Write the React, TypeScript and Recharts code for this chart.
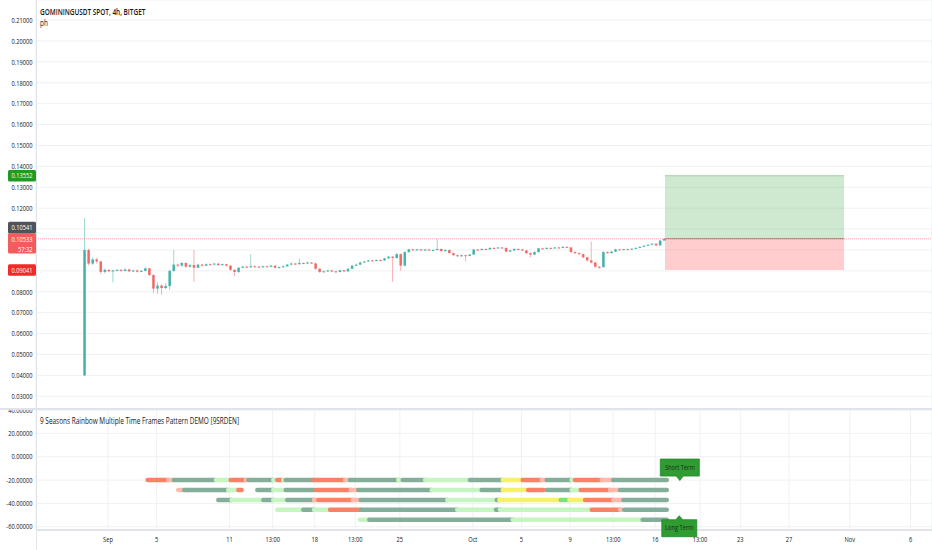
import React from 'react';
import { ComposedChart, Bar, Line, XAxis, YAxis, CartesianGrid, ReferenceLine, ReferenceArea, ReferenceDot } from 'recharts';

const FONT = '"Open Sans", "Noto Sans", sans-serif';
const SX = 0.75; // the screenshot is squeezed sideways, so is every glyph
const GRID = '#eff1f4';
const BORDER = '#e0e3eb';
const INK = '#131722';

// time axis in days, day 0 = Sep 1
const X_MIN = -5.92;
const X_MAX = 67.76;
const TICK_DAYS = [0, 4, 10, 13.54, 17, 20.34, 24, 30, 34, 38, 41.54, 45, 48.68, 52, 56, 61, 66];
const TICK_LABELS = ['Sep', '5', '11', '13:00', '18', '13:00', '25', 'Oct', '5', '9', '13:00', '16', '13:00', '23', '27', 'Nov', '6'];

const P_MIN = 0.02392;
const P_MAX = 0.2196;
const PRICE_TICKS = [0.03, 0.04, 0.05, 0.06, 0.07, 0.08, 0.09, 0.1, 0.11, 0.12, 0.13, 0.14, 0.15, 0.16, 0.17, 0.18, 0.19, 0.2, 0.21];
// labels that sit under the price badges
const COVERED_TICKS = [0.09, 0.1, 0.11];

const IND_MIN = -62.8;
const IND_MAX = 40.9;
const IND_TICKS = [40, 20, 0, -20, -40, -60];

// 8h candles, prices in 1e-4 units
const FIRST_DAY = -1.95;
const CANDLE_STEP = 1 / 3;
const FIRST_OPEN = 400;
const CLOSE = [
  1000, 935, 955, 945, 895, 905, 898, 902, 905, 900,
  907, 898, 902, 896, 900, 912, 880, 815, 830, 818,
  828, 900, 930, 925, 938, 920, 928, 915, 930, 925,
  932, 930, 935, 928, 932, 925, 905, 895, 915, 920,
  918, 922, 920, 918, 922, 920, 925, 915, 918, 922,
  930, 935, 932, 938, 935, 940, 936, 910, 895, 898,
  902, 898, 895, 903, 898, 910, 925, 930, 940, 945,
  950, 948, 952, 950, 960, 968, 962, 980, 925, 990,
  1003, 1000, 1003, 998, 1002, 998, 1000, 1005, 995, 1000,
  985, 975, 970, 975, 972, 978, 1002, 1000, 1005, 1003,
  1010, 1008, 1012, 1010, 992, 998, 1005, 1003, 998, 985,
  978, 990, 1008, 1005, 1010, 1008, 1012, 1010, 1015, 1012,
  990, 985, 980, 965, 950, 940, 920, 918, 990, 985,
  992, 1003, 1002, 1004, 1003, 1006, 1010, 1015, 1020, 1025,
  1030, 1022, 1045, 1053,
];
const HIGH = [
  1152, 1005, 965, 963, 950, 912, 908, 906, 910, 908,
  912, 910, 906, 905, 904, 918, 914, 884, 845, 835,
  842, 905, 1000, 935, 942, 940, 932, 1000, 935, 933,
  936, 935, 938, 936, 935, 934, 928, 908, 918, 925,
  924, 980, 925, 923, 926, 925, 930, 927, 921, 926,
  934, 940, 938, 960, 940, 944, 942, 938, 912, 902,
  906, 904, 900, 906, 905, 914, 928, 934, 944, 948,
  954, 953, 955, 954, 963, 972, 970, 985, 983, 994,
  1006, 1005, 1006, 1004, 1005, 1004, 1003, 1053, 1007, 1003,
  1002, 988, 978, 978, 977, 981, 1005, 1004, 1008, 1007,
  1013, 1012, 1015, 1014, 1012, 1001, 1008, 1007, 1004, 1000,
  988, 994, 1011, 1010, 1013, 1012, 1015, 1014, 1018, 1017,
  1014, 993, 988, 983, 968, 1040, 943, 922, 995, 993,
  995, 1006, 1005, 1006, 1006, 1008, 1012, 1017, 1022, 1027,
  1033, 1031, 1047, 1055,
];
const LOW = [
  397, 925, 928, 935, 885, 888, 893, 845, 898, 896,
  898, 894, 895, 892, 894, 897, 876, 795, 790, 785,
  812, 808, 896, 918, 920, 915, 916, 848, 912, 920,
  922, 926, 927, 925, 925, 921, 900, 875, 890, 912,
  914, 915, 916, 914, 915, 917, 917, 912, 912, 915,
  919, 927, 928, 929, 932, 932, 933, 906, 890, 892,
  895, 894, 891, 893, 894, 895, 908, 922, 927, 936,
  942, 945, 946, 947, 948, 957, 847, 958, 900, 922,
  987, 997, 997, 995, 996, 995, 996, 997, 992, 993,
  982, 972, 966, 967, 945, 970, 976, 997, 998, 1000,
  1001, 1005, 1006, 1007, 988, 990, 995, 1000, 995, 980,
  965, 975, 988, 1002, 1003, 1005, 1006, 1008, 1008, 1010,
  986, 980, 975, 960, 945, 935, 915, 910, 915, 982,
  983, 990, 999, 1000, 1001, 1002, 1005, 1009, 1014, 1019,
  1024, 1018, 1020, 1044,
];

// long position tool
const BOX_FROM = 45.8;
const BOX_TO = 60.53;
const TARGET = 0.13552;
const ENTRY = 0.10541;
const STOP = 0.09041;
const LAST = 0.10533;
const COUNTDOWN = '57:32';

// rainbow rows: [from day, to day, colour]
const ROW_LEVELS = [-20, -28.5, -37, -45.5, -54];
const ROW_1 = [[3.26, 4.96, 'rd'], [4.96, 5.43, 'pk'], [5.43, 8.88, 'dk'], [8.88, 10.09, 'lg'], [10.09, 11.35, 'rd'], [11.35, 11.54, 'pk'], [11.54, 13.59, 'dk'], [13.59, 13.92, 'lg'], [13.92, 14.42, 'rd'], [14.42, 14.61, 'lg'], [14.61, 16.88, 'dk'], [16.88, 19.49, 'rd'], [19.49, 19.9, 'pk'], [19.9, 23.87, 'dk'], [23.87, 24.23, 'lg'], [24.23, 26.07, 'dk'], [26.07, 29.77, 'lg'], [29.77, 32.46, 'dk'], [32.46, 34.1, 'yl'], [34.1, 35.67, 'rd'], [35.67, 36.08, 'pk'], [36.08, 38.13, 'dk'], [38.13, 38.4, 'lg'], [38.4, 40.6, 'rd'], [40.6, 41.55, 'pk'], [41.55, 45.95, 'dk']];
const ROW_2 = [[5.78, 6.27, 'pk'], [6.27, 9.89, 'dk'], [9.89, 10.72, 'lg'], [10.72, 10.99, 'rd'], [12.28, 13.59, 'dk'], [13.59, 14.61, 'lg'], [14.61, 16.94, 'dk'], [17.11, 19.96, 'rd'], [19.96, 20.58, 'pk'], [20.58, 26.62, 'dk'], [26.62, 30.73, 'lg'], [30.73, 32.46, 'dk'], [32.46, 34.56, 'yl'], [34.56, 35.8, 'rd'], [36.08, 38.13, 'dk'], [38.13, 38.87, 'lg'], [38.87, 41.28, 'rd'], [41.28, 42.11, 'pk'], [42.11, 45.95, 'dk']];
const ROW_3 = [[9.07, 10.17, 'dk'], [10.17, 12.77, 'lg'], [12.77, 13.59, 'dk'], [13.59, 14.74, 'lg'], [14.74, 16.94, 'dk'], [16.94, 17.29, 'pk'], [17.29, 20.12, 'rd'], [20.12, 20.78, 'pk'], [20.78, 27.9, 'dk'], [27.9, 31.97, 'lg'], [31.97, 32.18, 'dk'], [32.18, 37.23, 'yl'], [37.23, 37.94, 'gr'], [37.94, 39.23, 'yl'], [39.23, 41.55, 'rd'], [41.55, 42.38, 'pk'], [42.38, 45.95, 'dk']];
const ROW_4 = [[13.92, 16.06, 'lg'], [16.06, 16.94, 'dk'], [16.94, 18.26, 'lg'], [18.26, 20.78, 'rd'], [20.78, 28.72, 'dk'], [28.72, 31.91, 'lg'], [31.91, 32.24, 'dk'], [32.24, 39.78, 'lg'], [39.78, 42.11, 'rd'], [42.11, 42.25, 'pk'], [42.45, 45.95, 'dk']];
const ROW_5 = [[20.72, 21.49, 'lg'], [21.49, 33.28, 'dk'], [33.28, 43.97, 'lg'], [43.97, 45.95, 'dk']];
const ROWS = [ROW_1, ROW_2, ROW_3, ROW_4, ROW_5];
const CALLOUT_DAY = 46.98;

const COLORS: Record<string, string> = {
  dk: '#84ae99',
  lg: '#c6f5c2',
  rd: '#fa8066',
  pk: '#ffb8aa',
  yl: '#f6f266',
  gr: '#7ddf7d',
};

const candles = CLOSE.map((c, i) => ({
  t: FIRST_DAY + i * CANDLE_STEP,
  o: (i === 0 ? FIRST_OPEN : CLOSE[i - 1]) / 1e4,
  c: c / 1e4,
  h: HIGH[i] / 1e4,
  l: LOW[i] / 1e4,
}));

const SText = ({ x, y, anchor = 'start', size = 7.6, weight = 400, fill = INK, children }: any) => (
  <text
    transform={`translate(${x},${y + size * 0.36}) scale(${SX},1)`}
    textAnchor={anchor}
    fontSize={size}
    fontWeight={weight}
    fill={fill}
    fontFamily={FONT}
  >
    {children}
  </text>
);

const Candle = (props: any) => {
  const { x, y, width, height, payload } = props;
  if (!payload || height == null) return null;
  const { o, c, h, l } = payload;
  const color = c >= o ? '#26a69a' : '#ef5350';
  const k = height / Math.max(h - l, 1e-9);
  const top = y + (h - Math.max(o, c)) * k;
  const bh = Math.max(Math.abs(o - c) * k, 1);
  const mid = x + width / 2;
  return (
    <g>
      <line x1={mid} x2={mid} y1={y} y2={y + height} stroke={color} strokeOpacity={0.45} strokeWidth={1} />
      <rect x={x} y={top} width={width} height={bh} fill={color} fillOpacity={0.8} />
    </g>
  );
};

const badge = (text: string, bg: string, dy = 0, sub?: string) => (p: any) => {
  const vb = p.viewBox || {};
  const y = vb.y + dy;
  const h = sub ? 20.5 : 11.6;
  return (
    <g>
      <rect x={vb.x - 28} y={y - 5.8} width={28} height={h} rx={1.5} fill={bg} />
      <SText x={vb.x - 3.6} y={y} anchor="end" fill="#ffffff">{text}</SText>
      {sub && <SText x={vb.x - 3.6} y={y + 10.3} anchor="end" fill="#ffffff">{sub}</SText>}
    </g>
  );
};

const PriceTick = (p: any) => {
  const v = Number(p.payload.value);
  if (COVERED_TICKS.some((c) => Math.abs(c - v) < 1e-9)) return null;
  return <SText x={32.4} y={p.y} anchor="end">{v.toFixed(5)}</SText>;
};
const IndTick = (p: any) => <SText x={32.4} y={p.y} anchor="end">{Number(p.payload.value).toFixed(5)}</SText>;
const DayTick = (p: any) => {
  const i = TICK_DAYS.indexOf(p.payload.value);
  return <SText x={p.x} y={p.y + 1.5} anchor="middle">{TICK_LABELS[i]}</SText>;
};

const Callout = ({ cx, cy, text, below }: any) => {
  if (cx == null) return null;
  const fill = '#2e9c30';
  if (!below) {
    return (
      <g>
        <path d={`M${cx - 19},${cy - 21} h39 v17 h-16 l-3.5,4.5 l-3.5,-4.5 h-16 z`} fill={fill} stroke="#24862a" strokeWidth={0.8} />
        <SText x={cx + 0.5} y={cy - 12.5} anchor="middle" fill="#1f2a1f">{text}</SText>
      </g>
    );
  }
  return (
    <g>
      <path d={`M${cx - 17.5},${cy} h14 l3.5,-4 l3.5,4 h14 v17 h-35 z`} fill={fill} stroke="#24862a" strokeWidth={0.8} />
      <SText x={cx} y={cy + 7.5} anchor="middle" fill="#1f2a1f">{text}</SText>
    </g>
  );
};

const Caption = ({ top, bold, children }: any) => (
  <div
    style={{
      position: 'absolute',
      left: 40,
      top,
      fontFamily: FONT,
      fontSize: 8.6,
      fontWeight: bold ? 600 : 400,
      color: INK,
      transform: `scaleX(${SX})`,
      transformOrigin: 'left top',
      whiteSpace: 'nowrap',
      lineHeight: '11px',
    }}
  >
    {children}
  </div>
);

export default function App() {
  return (
    <div style={{ position: 'absolute', left: 0, top: 0, width: 932, height: 550, background: '#fff', overflow: 'hidden' }}>
      <div style={{ position: 'absolute', left: 0, top: 0 }}>
        <ComposedChart width={932} height={409} data={candles} margin={{ top: 0, right: 0, bottom: 0, left: 0 }}>
          <CartesianGrid stroke={GRID} />
          <XAxis type="number" dataKey="t" domain={[X_MIN, X_MAX]} allowDataOverflow ticks={TICK_DAYS} interval={0} height={0} tick={false} axisLine={false} tickLine={false} />
          <YAxis type="number" domain={[P_MIN, P_MAX]} allowDataOverflow ticks={PRICE_TICKS} interval={0} width={36} tick={<PriceTick />} axisLine={false} tickLine={false} />
          <ReferenceArea x1={BOX_FROM} x2={BOX_TO} y1={ENTRY} y2={TARGET} fill="#4caf50" fillOpacity={0.27} stroke="none" />
          <ReferenceArea x1={BOX_FROM} x2={BOX_TO} y1={STOP} y2={ENTRY} fill="#ff4d4d" fillOpacity={0.28} stroke="none" />
          <ReferenceLine segment={[{ x: BOX_FROM, y: TARGET }, { x: BOX_TO, y: TARGET }]} stroke="#9fd39f" strokeWidth={1} />
          <ReferenceLine segment={[{ x: BOX_FROM, y: ENTRY }, { x: BOX_TO, y: ENTRY }]} stroke="#8a9a8a" strokeWidth={1} />
          <Bar dataKey={(d: any) => [d.l, d.h]} barSize={2.6} shape={<Candle />} isAnimationActive={false} />
          <ReferenceLine y={LAST} stroke="#f23645" strokeOpacity={0.3} strokeWidth={1.5} strokeDasharray="1 1" />
          <ReferenceLine y={TARGET} stroke="none" label={badge(TARGET.toFixed(5), '#1f9a22')} />
          <ReferenceLine y={ENTRY} stroke="none" label={badge(ENTRY.toFixed(5), '#4f535c', -11)} />
          <ReferenceLine y={LAST} stroke="none" label={badge(LAST.toFixed(5), '#f35c5c', 0, COUNTDOWN)} />
          <ReferenceLine y={STOP} stroke="none" label={badge(STOP.toFixed(5), '#f42a2a')} />
        </ComposedChart>
      </div>
      <div style={{ position: 'absolute', left: 0, top: 409 }}>
        <ComposedChart width={932} height={141} margin={{ top: 0, right: 0, bottom: 0, left: 0 }}>
          <CartesianGrid stroke={GRID} />
          <XAxis type="number" dataKey="t" domain={[X_MIN, X_MAX]} allowDataOverflow ticks={TICK_DAYS} interval={0} height={20} tick={<DayTick />} axisLine={{ stroke: BORDER, strokeWidth: 2 }} tickLine={false} />
          <YAxis type="number" dataKey="v" domain={[IND_MIN, IND_MAX]} allowDataOverflow ticks={IND_TICKS} interval={0} width={36} tick={<IndTick />} axisLine={false} tickLine={false} />
          {ROWS.flatMap((row, r) =>
            row.map(([a, b, k], j) => (
              <Line
                key={`${r}-${j}`}
                data={[{ t: a, v: ROW_LEVELS[r] }, { t: b, v: ROW_LEVELS[r] }]}
                dataKey="v"
                stroke={COLORS[k as string]}
                strokeWidth={4.5}
                strokeLinecap="round"
                dot={false}
                activeDot={false}
                isAnimationActive={false}
              />
            ))
          )}
          <ReferenceDot x={CALLOUT_DAY} y={ROW_LEVELS[0]} ifOverflow="hidden" shape={(p: any) => <Callout {...p} text="Short Term" />} />
          <ReferenceDot x={CALLOUT_DAY} y={ROW_LEVELS[4]} ifOverflow="hidden" shape={(p: any) => <Callout {...p} text="Long Term" below />} />
        </ComposedChart>
      </div>
      <div style={{ position: 'absolute', left: 0, top: 408, width: 932, height: 2, background: BORDER }} />
      <div style={{ position: 'absolute', left: 35.5, top: 0, width: 1, height: 550, background: BORDER }} />
      <Caption top={6.5} bold>GOMININGUSDT SPOT, 4h, BITGET</Caption>
      <Caption top={17.8}>ph</Caption>
      <Caption top={416.2}>9 Seasons Rainbow Multiple Time Frames Pattern DEMO [9SRDEN]</Caption>
    </div>
  );
}
